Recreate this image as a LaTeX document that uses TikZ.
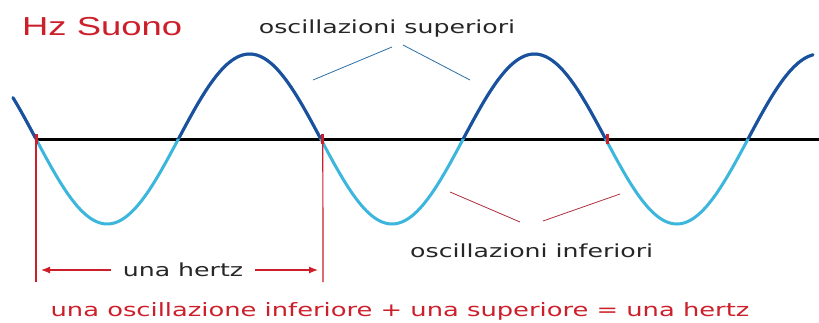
\documentclass[tikz,border=0pt]{standalone}
\usepackage{fontspec}
\setmainfont{DejaVu Sans}
\newfontfamily\labfont[FakeStretch=1.4]{DejaVu Sans}
\newfontfamily\titlefont[FakeStretch=1.4]{Liberation Sans}
\usetikzlibrary{arrows.meta}
\definecolor{navy}{HTML}{1E4F9C}
\definecolor{sky}{HTML}{3CB6DC}
\definecolor{hzred}{HTML}{CC1F2A}
\definecolor{ptrblue}{HTML}{2A6FA8}
\definecolor{ptrred}{HTML}{B03040}
\begin{document}
\begin{tikzpicture}[x=1pt,y=-1pt,
  lab/.style={font=\labfont\fontsize{18}{20}\selectfont, text=black!85, inner sep=0pt},
  redlab/.style={font=\labfont\fontsize{18.4}{20}\selectfont, inner sep=0pt, text=hzred},
  wave/.style={line width=3pt, line cap=round},
  redline/.style={draw=hzred, line width=1.2pt},
  ptr/.style={line width=0.8pt}]
\useasboundingbox (0,0) rectangle (819,322);
\fill[white] (0,0) rectangle (819,322);
% title
\node[anchor=base west, inner sep=0pt, text=hzred, font=\titlefont\fontsize{26}{28}\selectfont] (title) at (22,35) {Hz Suono};
% axis
\coordinate (axL) at (35,139);
\coordinate (axR) at (819,139);
\draw[line width=3pt] (axL) -- (axR);
% wave: lower part light blue
\draw[wave, sky] plot[domain=13:813, samples=300, smooth] (\x,{139+85*sin(1.26404*(\x-36))});
\begin{scope}
\clip (0,0) rectangle (819,138);
\draw[wave, navy] plot[domain=13:813, samples=300, smooth] (\x,{139+85*sin(1.26404*(\x-36))});
\end{scope}
% red ticks at crossings
\foreach \t [count=\i] in {36,322.8,607.6} {
  \coordinate (c\i) at (\t,139);
  \draw[hzred, line width=3pt] ([yshift=-5]c\i) -- ([yshift=5]c\i);
}
% red vertical lines
\coordinate (v1) at (36,282);
\coordinate (v2) at (323,282);
\draw[redline] (c1) -- (v1);
\draw[redline] (c2) -- (v2);
% una hertz
\node[lab, anchor=center] (uh) at (183,270) {una hertz};
\coordinate (aL) at (41,270);
\coordinate (aR) at (318,270);
\draw[redline, -{Latex[length=9pt,width=7pt]}] ([xshift=-12pt]uh.west) -- (aL);
\draw[redline, -{Latex[length=9pt,width=7pt]}] ([xshift=12pt]uh.east) -- (aR);
% labels
\node[lab, anchor=base] (sup) at (387,33) {oscillazioni superiori};
\node[lab, anchor=base west] (inf) at (410,257) {oscillazioni inferiori};
\node[redlab, anchor=base] (eq) at (400,316) {una oscillazione inferiore + una superiore = una hertz};
% pointers
\coordinate (s1a) at (313,80); \coordinate (s1b) at (392,47);
\coordinate (s2a) at (403,45); \coordinate (s2b) at (470,80);
\draw[ptr, ptrblue] (s1a) -- (s1b);
\draw[ptr, ptrblue] (s2a) -- (s2b);
\coordinate (i1a) at (450,192); \coordinate (i1b) at (520,222);
\coordinate (i2a) at (543,221); \coordinate (i2b) at (620,194);
\draw[ptr, ptrred] (i1a) -- (i1b);
\draw[ptr, ptrred] (i2a) -- (i2b);
\end{tikzpicture}
\end{document}
